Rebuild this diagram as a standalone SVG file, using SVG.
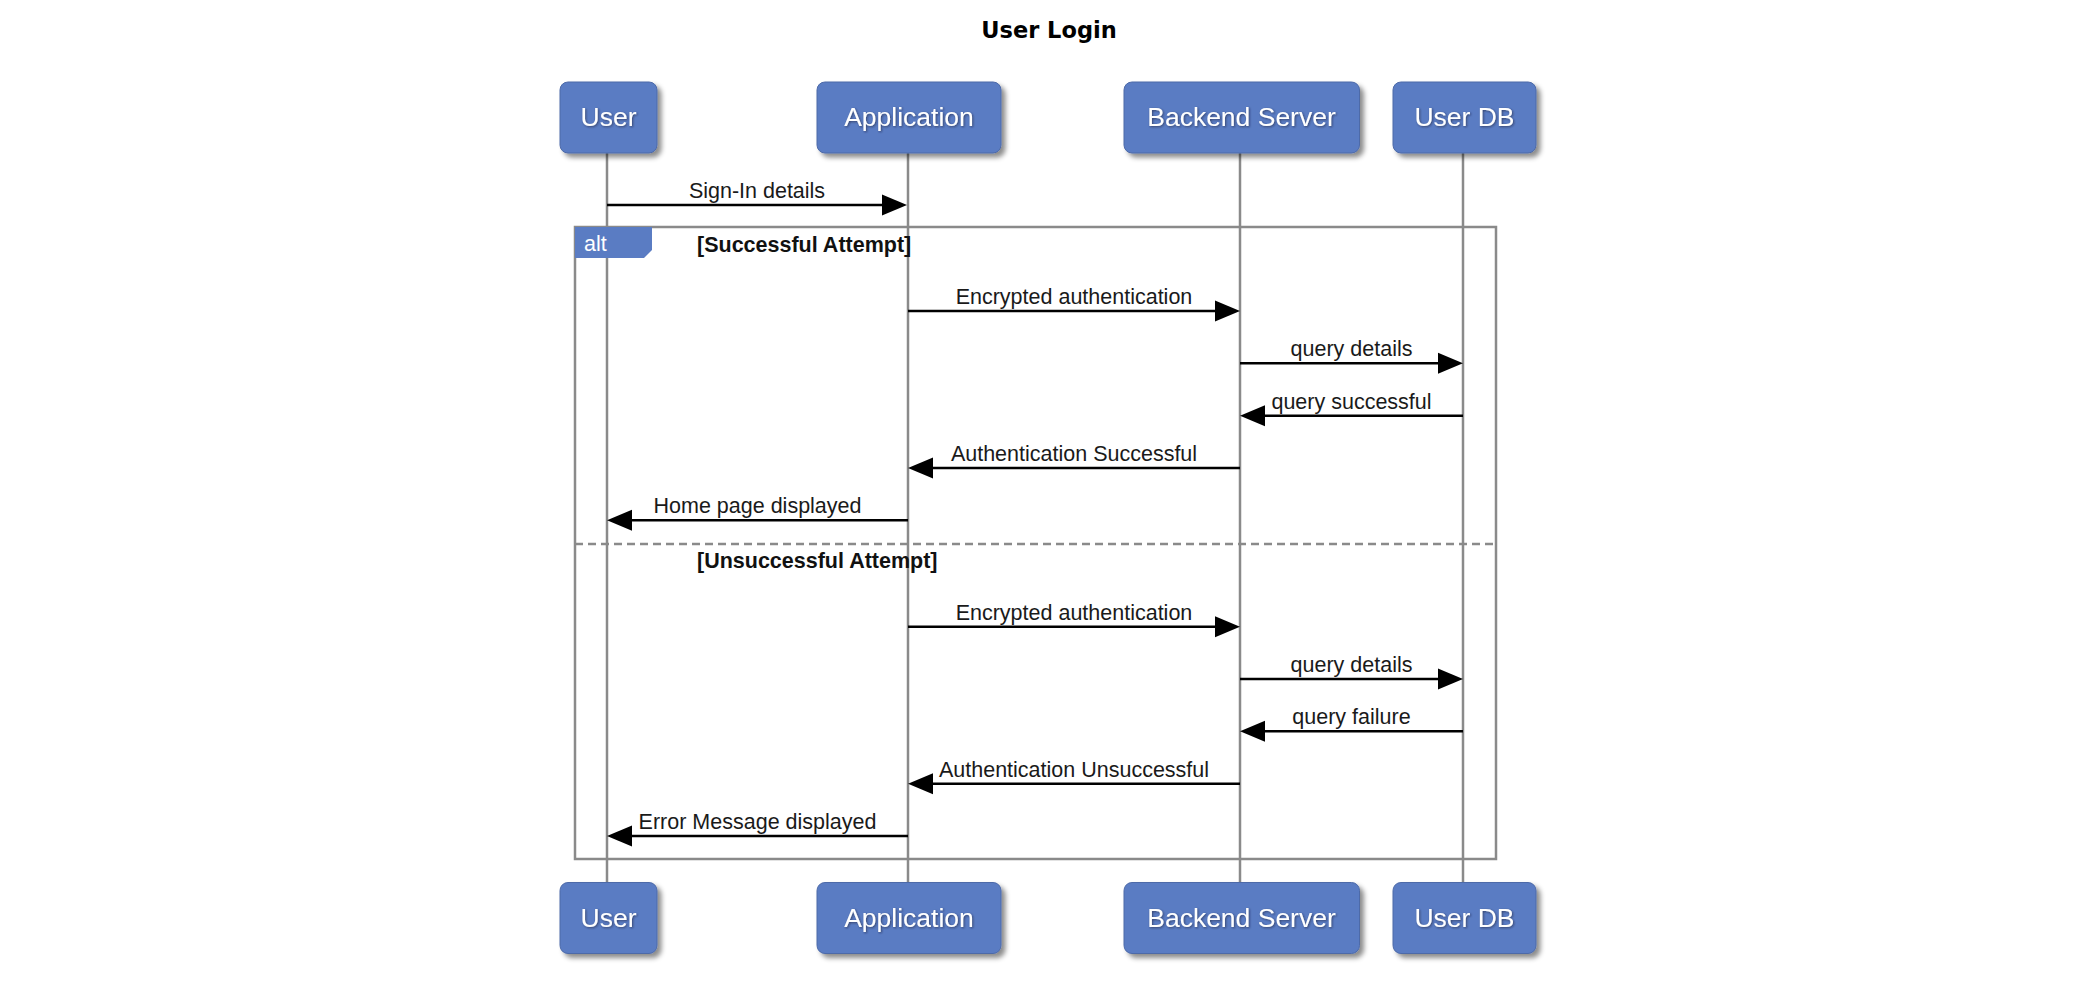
<svg xmlns="http://www.w3.org/2000/svg" width="2090" height="988" viewBox="0 0 2090 988">
<defs>
<filter id="sh" x="-20%" y="-20%" width="140%" height="150%">
<feDropShadow dx="4" dy="4" stdDeviation="2.5" flood-color="#000" flood-opacity="0.45"/>
</filter>
<filter id="tsh" x="-10%" y="-30%" width="120%" height="160%">
<feDropShadow dx="1" dy="1" stdDeviation="1" flood-color="#223" flood-opacity="0.6"/>
</filter>
</defs>
<style>
.box{fill:#5a7cc3;stroke:#4d6aa8;stroke-width:1}
.lbl{font-family:"Liberation Sans",Arial,sans-serif;font-size:26.5px;fill:#fff;text-anchor:middle}
.life{stroke:#8a8a8a;stroke-width:2.5;fill:none}
.frame{stroke:#8a8a8a;stroke-width:2.5;fill:none}
.msg{stroke:#000;stroke-width:2.5;fill:none}
.head{fill:#000}
.mt{font-family:"Liberation Sans",Arial,sans-serif;font-size:21.5px;fill:#1a1a1a;text-anchor:middle}
.guard{font-family:"Liberation Sans",Arial,sans-serif;font-size:21.5px;font-weight:bold;fill:#111}
.title{font-family:"DejaVu Sans",sans-serif;font-size:22.5px;font-weight:bold;fill:#000;text-anchor:middle}
</style>
<rect width="2090" height="988" fill="#fff"/>
<text class="title" x="1049" y="38">User Login</text>

<g id="lifelines">
<line class="life" x1="607" y1="153" x2="607" y2="882"/>
<line class="life" x1="908" y1="153" x2="908" y2="882"/>
<line class="life" x1="1240" y1="153" x2="1240" y2="882"/>
<line class="life" x1="1463" y1="153" x2="1463" y2="882"/>
</g>

<g id="alt-frame">
<rect class="frame" x="575" y="227" width="921" height="632"/>
<path d="M575,227 H652 V250 L644,258 H575 Z" fill="#5a7cc3"/>
<text x="584" y="251" font-family="Liberation Sans,Arial,sans-serif" font-size="21.5" fill="#fff">alt</text>
<text class="guard" x="697" y="252">[Successful Attempt]</text>
<line x1="575" y1="544" x2="1496" y2="544" stroke="#8a8a8a" stroke-width="2.5" stroke-dasharray="8,5"/>
<text class="guard" x="697" y="568">[Unsuccessful Attempt]</text>
</g>

<g id="connectors">
<g id="m1"><line class="msg" x1="607" y1="205" x2="884" y2="205"/><polygon class="head" points="907,205 882,194.5 882,215.5"/><text class="mt" x="757" y="198">Sign-In details</text></g>
<g id="m2"><line class="msg" x1="908" y1="311" x2="1217" y2="311"/><polygon class="head" points="1240,311 1215,300.5 1215,321.5"/><text class="mt" x="1074" y="304">Encrypted authentication</text></g>
<g id="m3"><line class="msg" x1="1240" y1="363.3" x2="1440" y2="363.3"/><polygon class="head" points="1463,363.3 1438,352.8 1438,373.8"/><text class="mt" x="1351.5" y="356.3">query details</text></g>
<g id="m4"><line class="msg" x1="1463" y1="415.7" x2="1263" y2="415.7"/><polygon class="head" points="1240,415.7 1265,405.2 1265,426.2"/><text class="mt" x="1351.5" y="408.7">query successful</text></g>
<g id="m5"><line class="msg" x1="1240" y1="468" x2="931" y2="468"/><polygon class="head" points="908,468 933,457.5 933,478.5"/><text class="mt" x="1074" y="461">Authentication Successful</text></g>
<g id="m6"><line class="msg" x1="908" y1="520.3" x2="630" y2="520.3"/><polygon class="head" points="607,520.3 632,509.8 632,530.8"/><text class="mt" x="757.5" y="513.3">Home page displayed</text></g>
<g id="m7"><line class="msg" x1="908" y1="626.7" x2="1217" y2="626.7"/><polygon class="head" points="1240,626.7 1215,616.2 1215,637.2"/><text class="mt" x="1074" y="619.7">Encrypted authentication</text></g>
<g id="m8"><line class="msg" x1="1240" y1="679" x2="1440" y2="679"/><polygon class="head" points="1463,679 1438,668.5 1438,689.5"/><text class="mt" x="1351.5" y="672">query details</text></g>
<g id="m9"><line class="msg" x1="1463" y1="731.3" x2="1263" y2="731.3"/><polygon class="head" points="1240,731.3 1265,720.8 1265,741.8"/><text class="mt" x="1351.5" y="724.3">query failure</text></g>
<g id="m10"><line class="msg" x1="1240" y1="783.7" x2="931" y2="783.7"/><polygon class="head" points="908,783.7 933,773.2 933,794.2"/><text class="mt" x="1074" y="776.7">Authentication Unsuccessful</text></g>
<g id="m11"><line class="msg" x1="908" y1="836" x2="630" y2="836"/><polygon class="head" points="607,836 632,825.5 632,846.5"/><text class="mt" x="757.5" y="829">Error Message displayed</text></g>
</g>

<g id="user-top"><rect class="box" x="560" y="82" width="97" height="71" rx="8" filter="url(#sh)"/><text class="lbl" x="608.5" y="126" filter="url(#tsh)">User</text></g>
<g id="application-top"><rect class="box" x="817" y="82" width="184" height="71" rx="8" filter="url(#sh)"/><text class="lbl" x="909" y="126" filter="url(#tsh)">Application</text></g>
<g id="backend-top"><rect class="box" x="1124" y="82" width="235.5" height="71" rx="8" filter="url(#sh)"/><text class="lbl" x="1241.5" y="126" filter="url(#tsh)">Backend Server</text></g>
<g id="userdb-top"><rect class="box" x="1393" y="82" width="143" height="71" rx="8" filter="url(#sh)"/><text class="lbl" x="1464.5" y="126" filter="url(#tsh)">User DB</text></g>

<g id="user-bottom"><rect class="box" x="560" y="882.5" width="97" height="71" rx="8" filter="url(#sh)"/><text class="lbl" x="608.5" y="927" filter="url(#tsh)">User</text></g>
<g id="application-bottom"><rect class="box" x="817" y="882.5" width="184" height="71" rx="8" filter="url(#sh)"/><text class="lbl" x="909" y="927" filter="url(#tsh)">Application</text></g>
<g id="backend-bottom"><rect class="box" x="1124" y="882.5" width="235.5" height="71" rx="8" filter="url(#sh)"/><text class="lbl" x="1241.5" y="927" filter="url(#tsh)">Backend Server</text></g>
<g id="userdb-bottom"><rect class="box" x="1393" y="882.5" width="143" height="71" rx="8" filter="url(#sh)"/><text class="lbl" x="1464.5" y="927" filter="url(#tsh)">User DB</text></g>
</svg>
